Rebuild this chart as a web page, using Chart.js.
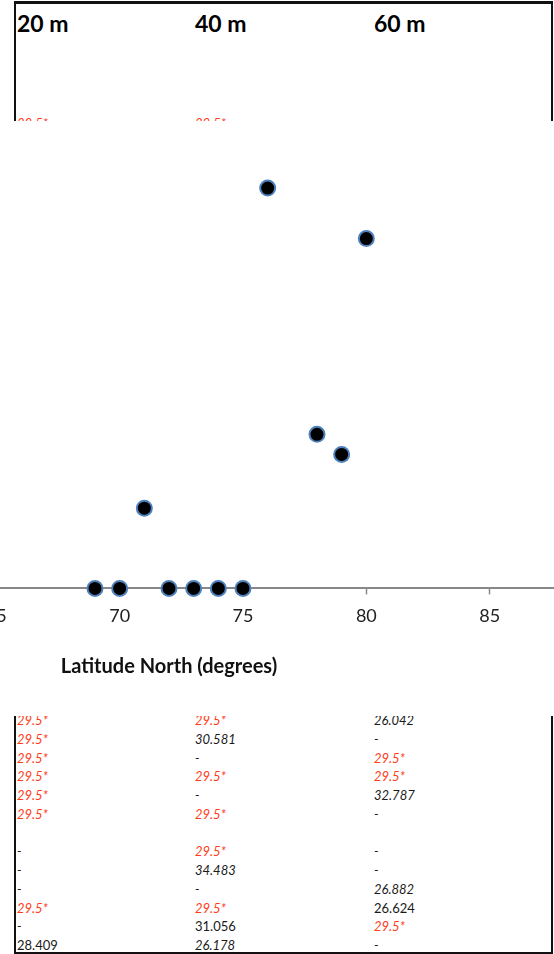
<!DOCTYPE html>
<html>
<head>
<meta charset="utf-8">
<script src="https://cdn.jsdelivr.net/npm/chart.js@4/dist/chart.umd.min.js"></script>
<style>
  html, body { margin: 0; padding: 0; background: #ffffff; }
  body { width: 554px; height: 954px; position: relative; overflow: hidden; font-family: Lato, "Open Sans", sans-serif; }
  #sheetBox { position: absolute; left: 14px; top: 1px; width: 535px; height: 948px; border: 2px solid #111; border-top-width: 3px; }
  .hdr { position: absolute; top: 8px; font: bold 23px Lato, sans-serif; color: #000; line-height: 30px; white-space: nowrap; }
  .cell { position: absolute; font-size: 13px; line-height: 18.7px; white-space: nowrap; color: #1a1a1a; font-style: italic; }
  .cell.red { color: #ff3b1a; }
  .cell.up { font-style: normal; }
  #chartWrap { position: absolute; left: 0; top: 121px; width: 554px; height: 595px; overflow: hidden; background: #ffffff; z-index: 5; }
  #chartBox { position: absolute; left: -167px; top: -34px; width: 820px; height: 621px; }
</style>
</head>
<body>
<div id="sheetBox"></div>
<div id="sheet"></div>
<div id="chartWrap"><div id="chartBox"><canvas id="c"></canvas></div></div>
<script>
// ---- chart data ----
const latitudes = [69, 70, 71, 72, 73, 74, 75, 76, 78, 79, 80];
const values    = [0, 0, 1.0, 0, 0, 0, 0, 4.99, 1.92, 1.67, 4.36];
const xTickMin = 60, xTickMax = 90, xTickStep = 5;
const xAxisTitle = 'Latitude North (degrees)';

// ---- spreadsheet data around the chart ----
const headers = ['20 m', '40 m', '60 m'];
const topRow  = ['29.5*', '29.5*', ''];
const col20 = ['29.5*','29.5*','29.5*','29.5*','29.5*','29.5*','','-','-','-','29.5*','-','28.409'];
const col40 = ['29.5*','30.581','-','29.5*','-','29.5*','','29.5*','34.483','-','29.5*','31.056','26.178'];
const col60 = ['26.042','-','29.5*','29.5*','32.787','-','','-','-','26.882','26.624','29.5*','-'];
const uprightCells = ['10,2', '11,1', '12,0'];

// ---- build spreadsheet text ----
const colX = [17, 195, 374];
const sheet = document.getElementById('sheet');
headers.forEach((h, i) => {
  const d = document.createElement('div');
  d.className = 'hdr'; d.textContent = h; d.style.left = colX[i] + 'px';
  sheet.appendChild(d);
});
function addCell(txt, col, centerY, row) {
  if (!txt) return;
  const d = document.createElement('div');
  d.className = 'cell' + (txt.endsWith('*') ? ' red' : '') + (uprightCells.includes(row + ',' + col) ? ' up' : '');
  d.textContent = txt;
  d.style.left = colX[col] + 'px';
  d.style.top = (centerY - 9.7) + 'px';
  sheet.appendChild(d);
}
topRow.forEach((t, c) => addCell(t, c, 124, -1));
[col20, col40, col60].forEach((col, c) => {
  col.forEach((t, r) => addCell(t, c, 721 + 18.73 * r, r));
});

// ---- chart ----
const axisTitlePlugin = {
  id: 'axisTitleAt',
  afterDraw(chart, args, opts) {
    const xs = chart.scales.x;
    const ctx = chart.ctx;
    ctx.save();
    ctx.font = opts.font;
    ctx.fillStyle = opts.color;
    ctx.textAlign = 'center';
    ctx.textBaseline = 'middle';
    ctx.fillText(opts.text, xs.getPixelForValue(opts.anchor), chart.chartArea.bottom + opts.offset);
    ctx.restore();
  }
};

new Chart(document.getElementById('c'), {
  type: 'scatter',
  data: {
    datasets: [{
      data: latitudes.map((x, i) => ({ x: x, y: values[i] })),
      backgroundColor: '#000000',
      borderColor: '#4f81bd',
      pointRadius: 7.5,
      pointHoverRadius: 7.5,
      pointBorderWidth: 2,
      clip: false
    }]
  },
  plugins: [axisTitlePlugin],
  options: {
    responsive: true,
    maintainAspectRatio: false,
    animation: false,
    events: [],
    layout: { padding: { left: 40, right: 40, top: 20, bottom: 70 } },
    plugins: {
      legend: { display: false },
      tooltip: { enabled: false },
      axisTitleAt: { text: xAxisTitle, anchor: 72, offset: 78, font: 'bold 20px Lato, sans-serif', color: '#111111' }
    },
    scales: {
      x: {
        type: 'linear',
        min: xTickMin, max: xTickMax,
        ticks: { stepSize: xTickStep, padding: 11, color: '#222222', font: { family: 'Lato', size: 18 } },
        grid: { display: true, drawOnChartArea: false, drawTicks: true, tickLength: 6, tickColor: '#888888', tickWidth: 1.5 },
        border: { display: true, color: '#888888', width: 2 }
      },
      y: {
        type: 'linear',
        min: 0, max: 6,
        display: false
      }
    }
  }
});
</script>
</body>
</html>
